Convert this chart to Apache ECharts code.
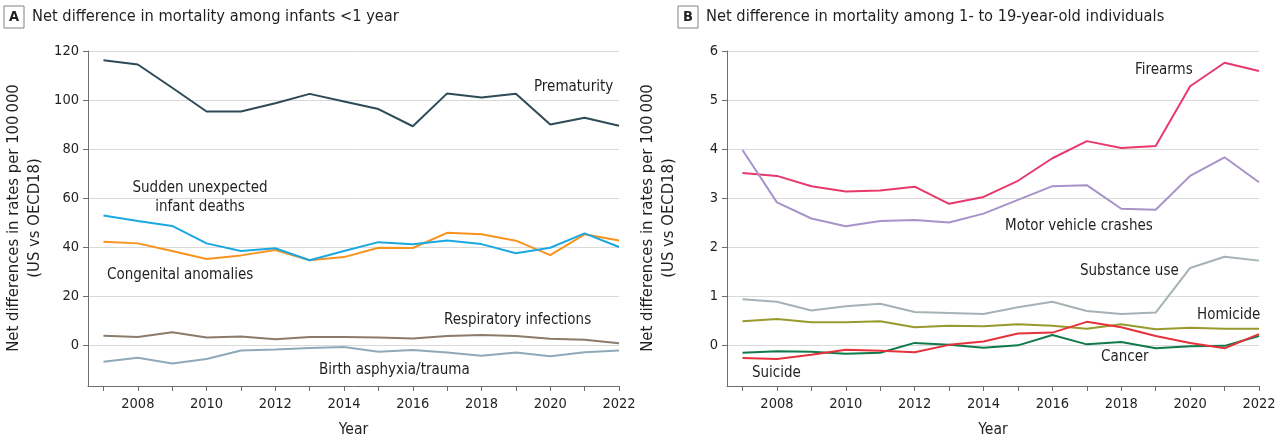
<!DOCTYPE html>
<html><head><meta charset="utf-8">
<script src="https://cdn.jsdelivr.net/npm/echarts@6/dist/echarts.min.js"></script>
<style>html,body{margin:0;padding:0;background:#fff}#c{width:1280px;height:440px}</style>
</head><body><div id="c"></div>
<script>
const years = [2007,2008,2009,2010,2011,2012,2013,2014,2015,2016,2017,2018,2019,2020,2021,2022];
const yearTicks = [2008,2010,2012,2014,2016,2018,2020,2022];
const ticksA = [0,20,40,60,80,100,120];
const ticksB = [0,1,2,3,4,5,6];

// Panel A: infants <1 year
const prematurity = [116.2,114.5,105,95.3,95.3,98.7,102.5,99.4,96.3,89.3,102.7,101.0,102.6,90.0,92.8,89.5];
const suid        = [52.9,50.6,48.6,41.5,38.4,39.5,34.6,38.4,42.0,41.1,42.7,41.2,37.5,39.7,45.6,40.0];
const congenital  = [42.2,41.5,38.4,35.1,36.6,38.8,34.6,35.9,39.7,39.6,45.8,45.2,42.6,36.7,45.2,42.7];
const respiratory = [3.8,3.3,5.2,3.1,3.5,2.4,3.3,3.3,3.1,2.7,3.7,4.1,3.7,2.6,2.2,0.7];
const asphyxia    = [-6.8,-5.2,-7.5,-5.7,-2.2,-1.8,-1.2,-0.8,-2.7,-2.0,-3.0,-4.4,-3.0,-4.6,-2.9,-2.2];

// Panel B: 1- to 19-year-olds
const firearms  = [3.51,3.45,3.24,3.13,3.15,3.23,2.88,3.02,3.35,3.81,4.16,4.02,4.06,5.28,5.76,5.59];
const motor     = [3.98,2.91,2.58,2.42,2.53,2.55,2.50,2.68,2.96,3.24,3.26,2.78,2.76,3.45,3.83,3.32];
const substance = [0.93,0.88,0.70,0.79,0.84,0.67,0.65,0.63,0.77,0.88,0.69,0.63,0.66,1.57,1.80,1.72];
const homicide  = [0.48,0.53,0.46,0.46,0.48,0.36,0.39,0.38,0.42,0.39,0.33,0.42,0.32,0.35,0.33,0.33];
const cancer    = [-0.16,-0.13,-0.14,-0.18,-0.16,0.04,0.0,-0.06,-0.01,0.20,0.01,0.06,-0.07,-0.03,-0.02,0.18];
const suicide   = [-0.27,-0.29,-0.20,-0.10,-0.12,-0.15,0.0,0.07,0.23,0.25,0.47,0.36,0.18,0.04,-0.07,0.22];

const FONT = "'DejaVu Sans Condensed','Liberation Sans Narrow',sans-serif";
const TXT = '#231f20';
const pairs = arr => years.map((y,i)=>[y,arr[i]]);

function xAxis(idx){
  return {
    type:'value', gridIndex:idx, min:2006.55, max:2022,
    axisLine:{show:true,onZero:false,lineStyle:{color:'#6d6e71',width:1}},
    axisTick:{show:true,length:5,customValues:years,lineStyle:{color:'#6d6e71'}},
    axisLabel:{customValues:yearTicks,margin:11,fontFamily:FONT,fontSize:14.5,color:TXT,formatter:v=>String(v)},
    splitLine:{show:false},
    name:'Year', nameLocation:'middle', nameGap:36,
    nameTextStyle:{fontFamily:FONT,fontSize:15.5,color:TXT}
  };
}
function yAxis(idx,min,max,ticks){
  return {
    type:'value', gridIndex:idx, min:min, max:max,
    axisLine:{show:true,lineStyle:{color:'#6d6e71',width:1}},
    axisTick:{show:true,length:5,customValues:ticks,lineStyle:{color:'#6d6e71'}},
    axisLabel:{customValues:ticks,margin:9,fontFamily:FONT,fontSize:14.5,color:TXT,formatter:v=>String(v)},
    splitLine:{show:true,lineStyle:{color:'#d9d9d9',width:1}}
  };
}
function line(name,data,color,xi){
  return {name:name,type:'line',xAxisIndex:xi,yAxisIndex:xi,data:pairs(data),
    showSymbol:false,lineStyle:{color:color,width:2},itemStyle:{color:color},silent:true};
}
function label(x,y,t,align){
  return {type:'text',x:x,y:y,style:{text:t,fontFamily:FONT,fontSize:15,fill:TXT,
    align:align||'left',verticalAlign:'middle'}};
}
function yName(x,t){
  return {type:'text',x:x,y:218,rotation:Math.PI/2,style:{text:t,fontFamily:FONT,fontSize:16.5,fill:TXT,
    align:'center',verticalAlign:'middle'}};
}
function panelTitle(x,letter,t){
  return [
    {type:'rect',shape:{x:x,y:6,width:20,height:22},style:{fill:'#fff',stroke:'#808285',lineWidth:1}},
    {type:'text',x:x+10,y:17,style:{text:letter,fontFamily:FONT,fontSize:14.5,fontWeight:'bold',fill:TXT,align:'center',verticalAlign:'middle'}},
    {type:'text',x:x+28,y:17,style:{text:t,fontFamily:FONT,fontSize:16.3,fill:TXT,align:'left',verticalAlign:'middle'}}
  ];
}

const chart = echarts.init(document.getElementById('c'),null,{renderer:'canvas'});
chart.setOption({
  animation:false,
  grid:[
    {left:88,top:51,width:531,height:335,containLabel:false,outerBoundsMode:'none'},
    {left:727,top:51,width:532,height:335,containLabel:false,outerBoundsMode:'none'}
  ],
  xAxis:[xAxis(0),xAxis(1)],
  yAxis:[yAxis(0,-16.7,120,ticksA),yAxis(1,-0.84,6,ticksB)],
  series:[
    line('Prematurity',prematurity,'#2d4b57',0),
    line('Congenital anomalies',congenital,'#f7931e',0),
    line('Sudden unexpected infant deaths',suid,'#1ba8e0',0),
    line('Respiratory infections',respiratory,'#8c7b6b',0),
    line('Birth asphyxia/trauma',asphyxia,'#8fa9b8',0),
    line('Firearms',firearms,'#e8396d',1),
    line('Motor vehicle crashes',motor,'#a793c9',1),
    line('Substance use',substance,'#a7b2b6',1),
    line('Homicide',homicide,'#999a2e',1),
    line('Cancer',cancer,'#107a4c',1),
    line('Suicide',suicide,'#e5323b',1)
  ],
  graphic:[
    ...panelTitle(4,'A','Net difference in mortality among infants <1 year'),
    ...panelTitle(678,'B','Net difference in mortality among 1- to 19-year-old individuals'),
    yName(14,'Net differences in rates per 100\u2009000'),
    yName(35,'(US vs OECD18)'),
    yName(648,'Net differences in rates per 100\u2009000'),
    yName(669,'(US vs OECD18)'),
    label(534,87,'Prematurity'),
    label(200,188,'Sudden unexpected','center'),
    label(200,207,'infant deaths','center'),
    label(107,275,'Congenital anomalies'),
    label(444,320,'Respiratory infections'),
    label(319,370,'Birth asphyxia/trauma'),
    label(1135,70,'Firearms'),
    label(1005,226,'Motor vehicle crashes'),
    label(1080,271,'Substance use'),
    label(1197,315,'Homicide'),
    label(1101,357,'Cancer'),
    label(752,373,'Suicide')
  ]
});
</script></body></html>
